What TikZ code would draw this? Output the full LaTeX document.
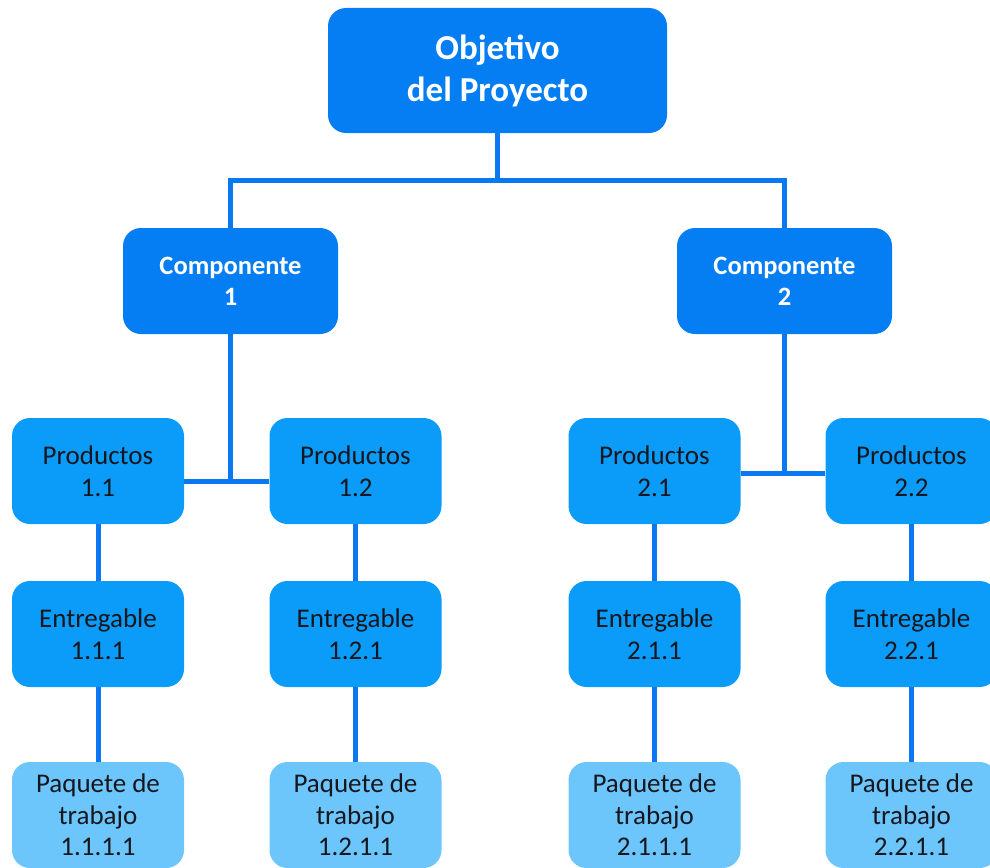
\documentclass[tikz,border=0pt]{standalone}
\usepackage{fontspec}
\setmainfont{Carlito}
\definecolor{topblue}{RGB}{4,126,242}
\definecolor{prodblue}{RGB}{10,156,248}
\definecolor{packblue}{RGB}{108,198,252}
\definecolor{linkblue}{RGB}{10,120,240}
\definecolor{darktext}{RGB}{22,22,30}
\tikzset{
  basebox/.style={rounded corners=18pt, inner sep=0pt, align=center},
  topbox/.style={basebox, fill=topblue, text=white, font=\fontsize{35}{42}\bfseries\selectfont,
    minimum width=339pt, minimum height=125pt},
  compbox/.style={basebox, fill=topblue, text=white, font=\fontsize{26.5}{31}\bfseries\selectfont,
    minimum width=215pt, minimum height=106pt},
  prodbox/.style={basebox, fill=prodblue, text=darktext, font=\fontsize{27}{32}\selectfont,
    minimum width=172pt, minimum height=106pt},
  packbox/.style={basebox, fill=packblue, text=darktext, font=\fontsize{27}{31.5}\selectfont,
    minimum width=172pt, minimum height=106pt},
  link/.style={draw=linkblue, line width=5pt}
}
\begin{document}
\begin{tikzpicture}[x=1pt,y=-1pt]
\useasboundingbox (0,0) rectangle (990,867);
\clip (0,0) rectangle (990,867);

\coordinate (bus) at (497.5,180);
\coordinate (j1) at (230.5,481);
\coordinate (j2) at (784.5,473);

\node[topbox] (top) at (497.5,70.5) {Objetivo\\del Proyecto};
\node[compbox] (c1) at (230.5,281) {Componente\\1};
\node[compbox] (c2) at (784.5,281) {Componente\\2};

\node[prodbox] (p11) at (98,471) {Productos\\1.1};
\node[prodbox] (p12) at (355.5,471) {Productos\\1.2};
\node[prodbox] (p21) at (654.5,471) {Productos\\2.1};
\node[prodbox] (p22) at (911.5,471) {Productos\\2.2};

\node[prodbox] (e11) at (98,634) {Entregable\\1.1.1};
\node[prodbox] (e12) at (355.5,634) {Entregable\\1.2.1};
\node[prodbox] (e21) at (654.5,634) {Entregable\\2.1.1};
\node[prodbox] (e22) at (911.5,634) {Entregable\\2.2.1};

\node[packbox] (w11) at (98,815) {Paquete de\\trabajo\\1.1.1.1};
\node[packbox] (w12) at (355.5,815) {Paquete de\\trabajo\\1.2.1.1};
\node[packbox] (w21) at (654.5,815) {Paquete de\\trabajo\\2.1.1.1};
\node[packbox] (w22) at (911.5,815) {Paquete de\\trabajo\\2.2.1.1};

\draw[link] (top.south) -- (bus);
\draw[link] (c1.north) |- (bus) -| (c2.north);

\draw[link] (c1.south) -- (j1);
\draw[link] (p11.east |- j1) -- (p12.west |- j1);
\draw[link] (c2.south) -- (j2);
\draw[link] (p21.east |- j2) -- (p22.west |- j2);

\foreach \n in {11,12,21,22}{
  \draw[link] (p\n.south) -- (e\n.north);
  \draw[link] (e\n.south) -- (w\n.north);
}
\end{tikzpicture}
\end{document}
